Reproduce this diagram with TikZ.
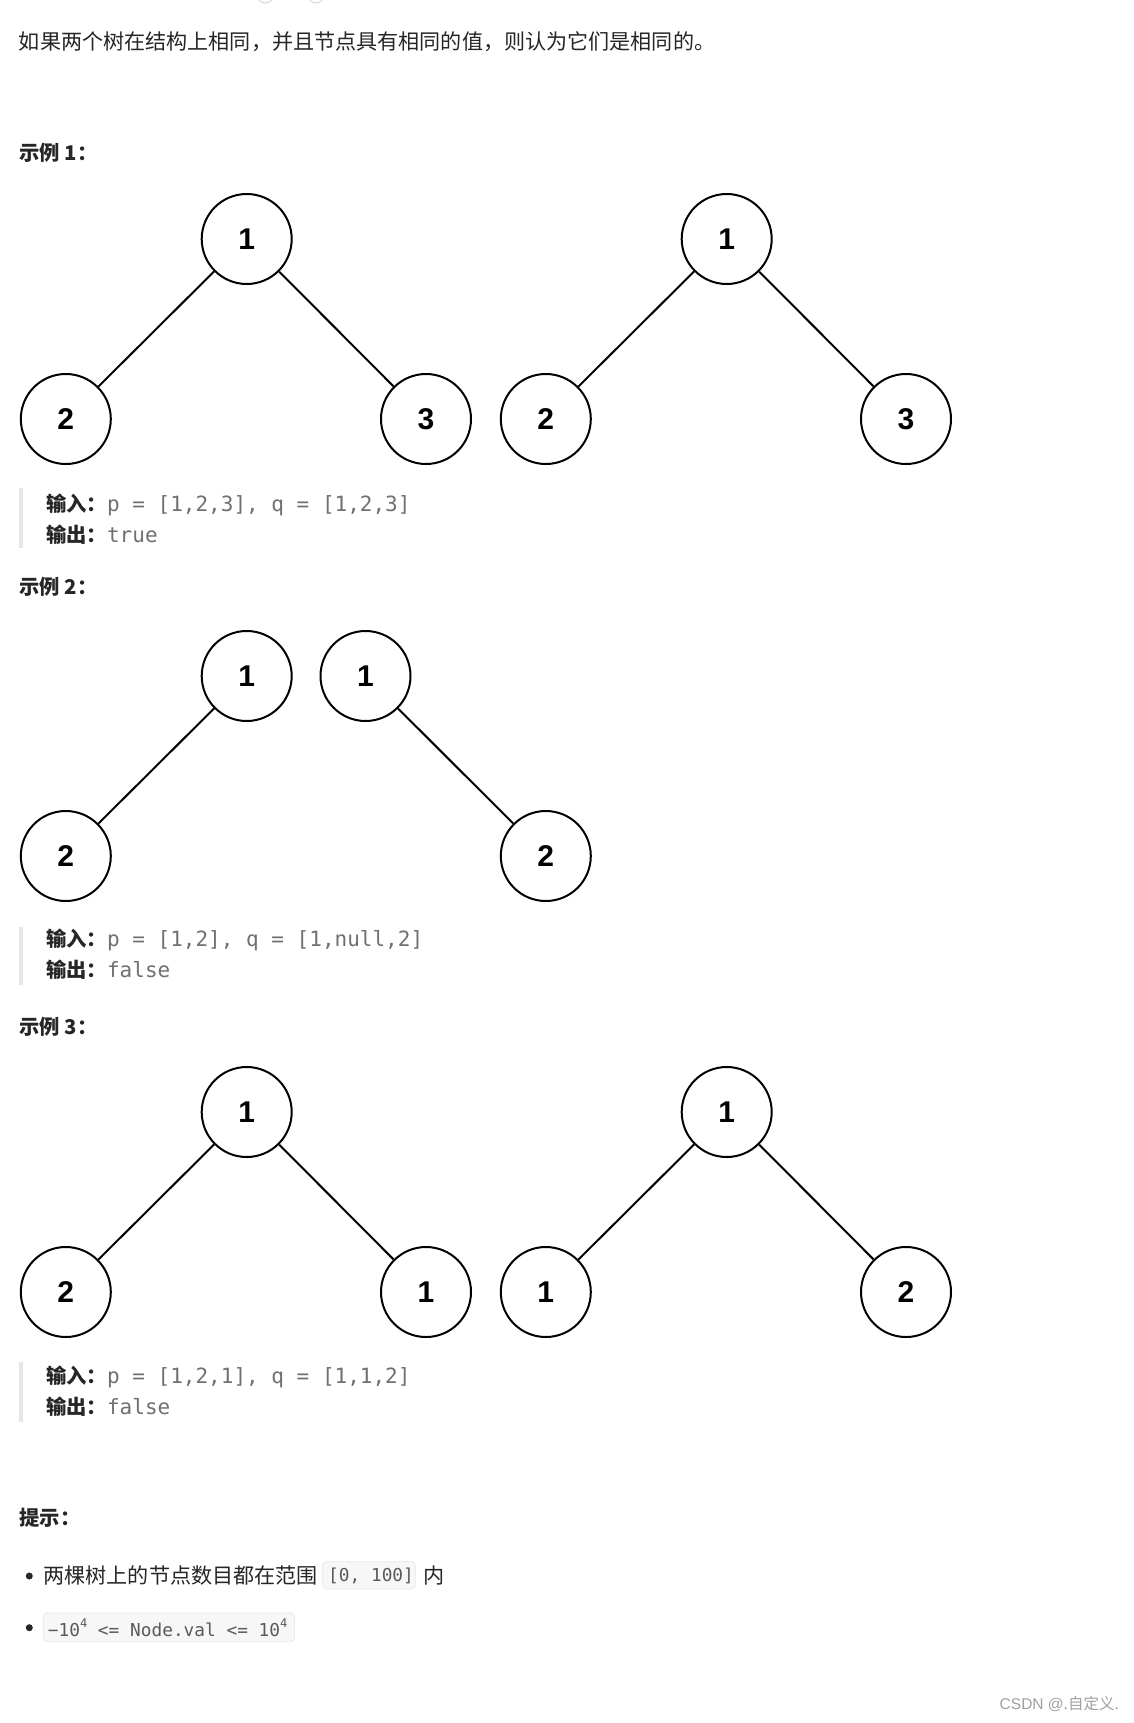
\documentclass[tikz,border=0pt]{standalone}
\usepackage{fontspec}
\newfontfamily\cjk{Noto Sans CJK SC}
\newfontfamily\mono{DejaVu Sans Mono}
\newfontfamily\arial{Liberation Sans}
\definecolor{txt}{HTML}{262626}
\definecolor{codegray}{HTML}{707070}
\definecolor{codedark}{HTML}{5A5A5A}
\definecolor{quotebar}{HTML}{E6E6E6}
\definecolor{codebg}{HTML}{F7F7F7}
\definecolor{codeborder}{HTML}{E8E8E8}
\definecolor{wmark}{HTML}{A0A0A0}
\tikzset{
  tnode/.style={circle, draw=black, line width=2pt, minimum size=90pt, inner sep=0pt, fill=white,
    font=\arial\bfseries\fontsize{30}{30}\selectfont},
  tedge/.style={line width=2pt, draw=black},
  bodytext/.style={anchor=west, inner sep=0pt, text=txt, font=\cjk\fontsize{21.1}{24}\selectfont},
  headtext/.style={anchor=west, inner sep=0pt, text=txt, font=\cjk\bfseries\fontsize{20.3}{24}\selectfont},
  qrow/.style={anchor=west, inner sep=0pt, text=txt, font=\cjk\bfseries\fontsize{20.3}{24}\selectfont},
  qbar/.style={fill=quotebar, draw=none},
  codebox/.style={draw=codeborder, fill=codebg, rounded corners=4pt, line width=0.8pt},
  codetext/.style={anchor=west, inner sep=0pt, text=codedark, font=\mono\fontsize{17.8}{20}\selectfont},
  bulletdot/.style={circle, fill=txt, inner sep=0pt, minimum size=7pt},
  topfrag/.style={draw=black!18, fill=white, line width=0.8pt}
}
\newcommand{\qcode}[1]{{\mono\mdseries\color{codegray}\fontsize{21}{24}\selectfont #1}}
\newcommand{\supfour}{\raisebox{0.5em}{\fontsize{12}{12}\selectfont 4}}
\begin{document}
\begin{tikzpicture}[x=1pt,y=-1pt]
\path[fill=white,use as bounding box] (0,0) rectangle (1133,1723);

% faint fragments at top edge
\node[topfrag, circle, minimum size=16pt, inner sep=0pt] (fragA) at (265.5,-5) {};
\node[topfrag, circle, minimum size=16pt, inner sep=0pt] (fragB) at (316,-5) {};

% intro line
\node[bodytext] (intro) at (18.7,42) {如果两个树在结构上相同，并且节点具有相同的值，则认为它们是相同的。};

% ---------- Example 1 ----------
\node[headtext] (h1) at (19.3,153) {示例 1：};
\node[tnode] (a1) at (246.7,239) {1};
\node[tnode] (a2) at (65.8,419) {2};
\node[tnode] (a3) at (426,419) {3};
\draw[tedge] (a1) -- (a2);
\draw[tedge] (a1) -- (a3);
\node[tnode] (b1) at (726.7,239) {1};
\node[tnode] (b2) at (545.8,419) {2};
\node[tnode] (b3) at (906,419) {3};
\draw[tedge] (b1) -- (b2);
\draw[tedge] (b1) -- (b3);
\path[qbar] (19,488) rectangle (22.5,548);
\node[qrow] (q1in) at (46,505) {输入：\qcode{p = [1,2,3], q = [1,2,3]}};
\node[qrow] (q1out) at (46,535) {输出：\qcode{true}};

% ---------- Example 2 ----------
\node[headtext] (h2) at (19.3,587) {示例 2：};
\node[tnode] (c1) at (246.7,676) {1};
\node[tnode] (c2) at (65.8,856) {2};
\draw[tedge] (c1) -- (c2);
\node[tnode] (d1) at (365.5,676) {1};
\node[tnode] (d2) at (545.8,856) {2};
\draw[tedge] (d1) -- (d2);
\path[qbar] (19,927) rectangle (22.5,985);
\node[qrow] (q2in) at (46,940) {输入：\qcode{p = [1,2], q = [1,null,2]}};
\node[qrow] (q2out) at (46,970) {输出：\qcode{false}};

% ---------- Example 3 ----------
\node[headtext] (h3) at (19.3,1026.7) {示例 3：};
\node[tnode] (e1) at (246.7,1112) {1};
\node[tnode] (e2) at (65.8,1292) {2};
\node[tnode] (e3) at (426,1292) {1};
\draw[tedge] (e1) -- (e2);
\draw[tedge] (e1) -- (e3);
\node[tnode] (f1) at (726.7,1112) {1};
\node[tnode] (f2) at (545.8,1292) {1};
\node[tnode] (f3) at (906,1292) {2};
\draw[tedge] (f1) -- (f2);
\draw[tedge] (f1) -- (f3);
\path[qbar] (19,1362) rectangle (22.5,1422);
\node[qrow] (q3in) at (46,1377) {输入：\qcode{p = [1,2,1], q = [1,1,2]}};
\node[qrow] (q3out) at (46,1407) {输出：\qcode{false}};

% ---------- Hints ----------
\node[headtext] (h4) at (19.3,1518) {提示：};
\node[bulletdot] (dot1) at (29.3,1576) {};
\node[bodytext] (hint1) at (43.3,1575) {两棵树上的节点数目都在范围};
\path[codebox] (322.7,1561.7) rectangle (415.3,1589);
\node[codetext] (code1) at (328,1575.5) {[0, 100]};
\node[bodytext] (hint1b) at (423,1575) {内};
\node[bulletdot] (dot2) at (29.3,1627.7) {};
\path[codebox] (43.3,1613) rectangle (294.7,1641.7);
\node[codetext] (code2) at (47.7,1628) {−10\supfour{} <= Node.val <= 10\supfour};

% watermark
\node[anchor=east, inner sep=0pt, text=wmark, font=\fontsize{15.5}{18}\selectfont] (wm) at (1119,1704)
  {{\arial CSDN @}{\cjk .自定义.}};
\end{tikzpicture}
\end{document}
